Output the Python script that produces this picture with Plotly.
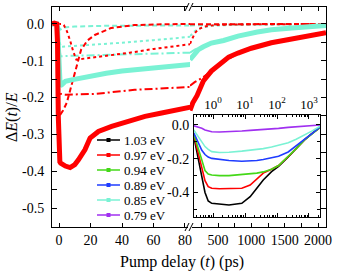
import plotly.graph_objects as go

# ---------------- main plot data (0.97 eV red, 0.85 eV cyan) ----------------
red_t_left = [-4.5, -3, -1.5, -1, -0.5, 0, 0.5, 1, 2, 4, 7, 10, 12.3, 14.5, 16.5, 19.7, 25, 33.4, 44, 54.6, 65.2, 75.8, 83.5]
red_v_left = [0.0, 0.002, 0.0, -0.05, -0.25, -0.36, -0.375, -0.378, -0.382, -0.386, -0.39, -0.382, -0.369, -0.355, -0.341, -0.31, -0.292, -0.278, -0.265, -0.251, -0.242, -0.233, -0.226]
red_t_right = [80, 120, 185, 280, 400, 540, 660, 800, 1000, 1300, 1600, 1800, 2120]
red_v_right = [-0.235, -0.215, -0.195, -0.155, -0.128, -0.106, -0.09, -0.079, -0.066, -0.051, -0.04, -0.034, -0.024]

cyan_t_left = [-4.5, -1.5, -1, -0.5, 0, 0.7, 1.7, 4, 8, 15, 23, 30, 40, 48, 60, 70, 83.5]
cyan_v_left = [0.0, 0.0, -0.01, -0.08, -0.14, -0.168, -0.165, -0.156, -0.152, -0.146, -0.141, -0.134, -0.128, -0.125, -0.12, -0.117, -0.11]
cyan_t_right = [80, 150, 205, 280, 400, 585, 800, 1090, 1300, 1610, 2060, 2120]
cyan_v_right = [-0.097, -0.08, -0.07, -0.062, -0.052, -0.045, -0.033, -0.022, -0.016, -0.011, -0.005, -0.004]

# fit components
red_dash_t_left = [-4.5, -1, -0.5, 0, 1, 2.5, 4.9, 7, 9, 11.5, 14, 18, 22.7, 33, 48, 65, 83.5]
red_dash_v_left = [0, 0, -0.1, -0.24, -0.245, -0.235, -0.214, -0.18, -0.144, -0.105, -0.07, -0.045, -0.03, -0.011, -0.003, -0.001, 0]
red_dash_t_right = [80, 2120]
red_dash_v_right = [-0.001, 0.0]

red_dot_t_left = [-4.5, 2, 3, 5, 7, 9, 11, 13, 20, 30, 45, 60, 72, 83.5]
red_dot_v_left = [0, 0, -0.003, -0.02, -0.045, -0.075, -0.097, -0.096, -0.092, -0.087, -0.078, -0.068, -0.062, -0.055]
red_dot_t_right = [80, 110, 150, 200, 300, 450, 700, 1200, 2120]
red_dot_v_right = [-0.054, -0.04, -0.026, -0.015, -0.007, -0.003, -0.0015, -0.0008, -0.0003]

red_dd_t_left = [-4.5, -1, -0.5, 0, 1, 4, 23, 48, 83.5]
red_dd_v_left = [0, 0, -0.1, -0.18, -0.19, -0.192, -0.19, -0.179, -0.171]
red_dd_t_right = [80, 150, 250, 350, 450, 540, 800, 1300, 2120]
red_dd_v_right = [-0.168, -0.158, -0.148, -0.136, -0.122, -0.108, -0.08, -0.052, -0.025]

cyan_dash_t_left = [-4.5, -1, 0, 1, 3, 10, 30, 83.5]
cyan_dash_v_left = [0, 0, -0.01, -0.015, -0.01, -0.007, -0.005, -0.004]
cyan_dash_t_right = [80, 500, 2120]
cyan_dash_v_right = [-0.004, -0.002, -0.001]

cyan_dot_t_left = [-4.5, -1, 0, 1, 5, 20, 40, 60, 83.5]
cyan_dot_v_left = [0, 0, -0.04, -0.062, -0.061, -0.057, -0.051, -0.044, -0.035]
cyan_dot_t_right = [80, 150, 250, 400, 800, 2120]
cyan_dot_v_right = [-0.033, -0.02, -0.01, -0.005, -0.002, 0.0]

cyan_dd_t_left = [-4.5, -1, 0, 1, 5, 20, 48, 83.5]
cyan_dd_v_left = [0, 0, -0.06, -0.088, -0.087, -0.085, -0.083, -0.078]
cyan_dd_t_right = [80, 150, 250, 400, 600, 800, 1090, 1610, 2120]
cyan_dd_v_right = [-0.078, -0.07, -0.062, -0.051, -0.043, -0.033, -0.022, -0.011, -0.004]

# ---------------- inset data (log time) ----------------
inset_t = [0.25, 0.355, 0.447, 0.562, 0.708, 0.912, 1.585, 3.16, 7.94, 14.5, 23.4, 37.2, 67.6, 112, 224, 398, 708, 1259, 2208]
labels = ["1.03 eV", "0.97 eV", "0.94 eV", "0.89 eV", "0.85 eV", "0.79 eV"]
v_103 = [-0.066, -0.2, -0.306, -0.4, -0.45, -0.464, -0.47, -0.474, -0.464, -0.425, -0.375, -0.326, -0.276, -0.245, -0.19, -0.14, -0.09, -0.05, -0.015]
v_097 = [-0.059, -0.17, -0.247, -0.33, -0.365, -0.375, -0.378, -0.378, -0.375, -0.356, -0.32, -0.285, -0.262, -0.24, -0.188, -0.14, -0.09, -0.05, -0.015]
v_094 = [-0.053, -0.14, -0.207, -0.27, -0.29, -0.296, -0.3, -0.3, -0.295, -0.29, -0.285, -0.278, -0.262, -0.24, -0.188, -0.14, -0.09, -0.05, -0.015]
v_089 = [-0.046, -0.11, -0.15, -0.175, -0.19, -0.198, -0.205, -0.21, -0.215, -0.214, -0.21, -0.205, -0.196, -0.185, -0.16, -0.125, -0.088, -0.05, -0.012]
v_085 = [-0.03, -0.075, -0.105, -0.128, -0.145, -0.158, -0.163, -0.162, -0.155, -0.15, -0.146, -0.14, -0.13, -0.12, -0.105, -0.085, -0.062, -0.035, -0.008]
v_079 = [-0.005, -0.012, -0.02, -0.03, -0.036, -0.04, -0.042, -0.041, -0.036, -0.032, -0.03, -0.027, -0.024, -0.02, -0.014, -0.01, -0.007, -0.004, 0.0]
inset_vals = [v_103, v_097, v_094, v_089, v_085, v_079]

colors = ["#000000", "#ff0000", "#44d818", "#1f3cff", "#7af2d4", "#a030f0"]
RED = colors[1]
CYAN = colors[4]

y_ticks = [0.0, -0.1, -0.2, -0.3, -0.4, -0.5]
y_ticktext = ["0.0", "-0.1", "-0.2", "-0.3", "-0.4", "-0.5"]
x_left_ticks = [0, 20, 40, 60, 80]
x_right_ticks = [500, 1000, 1500, 2000]
inset_xticks = [1, 10, 100, 1000]
inset_xtext = ["10<sup>0</sup>", "10<sup>1</sup>", "10<sup>2</sup>", "10<sup>3</sup>"]
inset_yticks = [0.0, -0.2, -0.4]
inset_ytext = ["0.0", "-0.2", "-0.4"]

FONT = "Liberation Serif"
fig = go.Figure()


def add_pair(tl, vl, tr, vr, color, width, dash):
    fig.add_trace(go.Scatter(x=tl, y=vl, mode="lines", xaxis="x", yaxis="y",
                             line=dict(color=color, width=width, dash=dash), showlegend=False))
    fig.add_trace(go.Scatter(x=tr, y=vr, mode="lines", xaxis="x2", yaxis="y2",
                             line=dict(color=color, width=width, dash=dash), showlegend=False))


DASH = "5px,3px"
DD = "8px,3px,2px,3px"
add_pair(cyan_dash_t_left, cyan_dash_v_left, cyan_dash_t_right, cyan_dash_v_right, CYAN, 2, DASH)
add_pair(cyan_dot_t_left, cyan_dot_v_left, cyan_dot_t_right, cyan_dot_v_right, CYAN, 2, "dot")
add_pair(cyan_dd_t_left, cyan_dd_v_left, cyan_dd_t_right, cyan_dd_v_right, CYAN, 2, DD)
add_pair(red_dash_t_left, red_dash_v_left, red_dash_t_right, red_dash_v_right, RED, 2, DASH)
add_pair(red_dot_t_left, red_dot_v_left, red_dot_t_right, red_dot_v_right, RED, 2, "dot")
add_pair(red_dd_t_left, red_dd_v_left, red_dd_t_right, red_dd_v_right, RED, 2, DD)
add_pair(cyan_t_left, cyan_v_left, cyan_t_right, cyan_v_right, CYAN, 5, "solid")
add_pair(red_t_left, red_v_left, red_t_right, red_v_right, RED, 5, "solid")

# inset traces
for name, vals, c in zip(labels, inset_vals, colors):
    fig.add_trace(go.Scatter(x=inset_t, y=vals, mode="lines", xaxis="x3", yaxis="y3", name=name,
                             line=dict(color=c, width=1.6), showlegend=False))

W, H = 344, 271
L, R, T, B = 52, 18, 7, 44
pw, ph = W - L - R, H - T - B


def px(xp):
    return (xp - L) / pw


def py(yp):
    return (H - B - yp) / ph


split = px(190)
ax_common = dict(showline=True, linecolor="black", linewidth=1, ticks="inside", tickcolor="black",
                 tickfont=dict(family=FONT, size=14, color="black"), showgrid=False, zeroline=False)

fig.update_layout(
    width=W, height=H, margin=dict(l=L, r=R, t=T, b=B),
    paper_bgcolor="white", plot_bgcolor="white",
    font=dict(family=FONT, color="black"),
    showlegend=False,
    xaxis=dict(domain=[0, split], range=[-4.5, 83.2], anchor="y", tickvals=x_left_ticks,
               ticklen=4, mirror="allticks", **ax_common),
    xaxis2=dict(domain=[split, 1], range=[80, 2120], anchor="y2", tickvals=x_right_ticks,
                ticklen=4, mirror="allticks",
                minor=dict(tickvals=[250, 750, 1250, 1750], ticks="inside", ticklen=4, tickcolor="black"),
                **ax_common),
    yaxis=dict(domain=[0, 1], range=[-0.5515, 0.046], anchor="x", tickvals=y_ticks, ticktext=y_ticktext,
               ticklen=5, minor=dict(tickvals=[-0.05, -0.15, -0.25, -0.35, -0.45], ticks="inside", ticklen=5,
                                     tickcolor="black"),
               ticklabelstandoff=4, **ax_common),
    yaxis2=dict(domain=[0, 1], range=[-0.5515, 0.046], anchor="x2", side="right", tickvals=y_ticks,
                showticklabels=False, ticklen=5,
                minor=dict(tickvals=[-0.05, -0.15, -0.25, -0.35, -0.45], ticks="inside", ticklen=5,
                           tickcolor="black"),
                **ax_common),
    xaxis3=dict(domain=[px(194), px(320)], type="log", range=[-0.594, 3.344], anchor="y3", side="top",
                tickvals=inset_xticks, ticktext=inset_xtext, ticklen=4, mirror="allticks",
                minor=dict(tickvals=[m * 10 ** e for e in range(-1, 4) for m in range(2, 10)],
                           ticks="inside", ticklen=2, tickcolor="black"),
                showline=True, linecolor="black", linewidth=1, ticks="inside", tickcolor="black",
                tickfont=dict(family=FONT, size=13, color="black"), showgrid=False, zeroline=False,
                ticklabelstandoff=0),
    yaxis3=dict(domain=[py(217), py(115)], range=[-0.545, 0.059], anchor="x3",
                tickvals=inset_yticks, ticktext=inset_ytext, ticklen=4, mirror="allticks",
                minor=dict(tickvals=[-0.1, -0.3, -0.5], ticks="inside", ticklen=3, tickcolor="black"),
                showline=True, linecolor="black", linewidth=1, ticks="inside", tickcolor="black",
                tickfont=dict(family=FONT, size=14, color="black"), showgrid=False, zeroline=False,
                ticklabelstandoff=1),
)

# legend (drawn as line sample + square marker + text)
leg_y0, leg_dy = 140, 15
for i, (name, c) in enumerate(zip(labels, colors)):
    yc = leg_y0 + i * leg_dy
    fig.add_shape(type="line", x0=px(97), x1=px(120), y0=py(yc), y1=py(yc), xref="paper", yref="paper",
                  line=dict(color=c, width=1.5), layer="above")
    fig.add_shape(type="rect", x0=px(106.5), x1=px(110.5), y0=py(yc + 2), y1=py(yc - 2),
                  xref="paper", yref="paper", line=dict(width=0), fillcolor=c, layer="above")
    fig.add_annotation(text=name, x=px(121.5), y=py(yc), xref="paper", yref="paper", showarrow=False,
                       xanchor="left", yanchor="middle", font=dict(family=FONT, size=13, color="black"))

# axis titles
fig.add_annotation(text="Pump delay (<i>t</i>) (ps)", x=px(182), y=py(262), xref="paper", yref="paper",
                   showarrow=False, xanchor="center", yanchor="middle",
                   font=dict(family=FONT, size=16, color="black"))
fig.add_annotation(text="Δ<i>E</i>(<i>t</i>)/<i>E</i>", x=px(12), y=py(117), xref="paper", yref="paper",
                   showarrow=False, xanchor="center", yanchor="middle", textangle=-90,
                   font=dict(family=FONT, size=16, color="black"))

# axis break marks "//"
for yb in (7, 227):
    fig.add_shape(type="rect", x0=px(188), x1=px(192), y0=py(yb + 1.5), y1=py(yb - 1.5),
                  xref="paper", yref="paper", line=dict(width=0), fillcolor="white", layer="above")
    for xb in (187, 191):
        fig.add_shape(type="line", x0=px(xb - 2), y0=py(yb + 4), x1=px(xb + 2), y1=py(yb - 4),
                      xref="paper", yref="paper", line=dict(color="black", width=1), layer="above")

fig.write_html("out.html", config={"displayModeBar": False},
               post_script="document.body.style.margin='0px';")
